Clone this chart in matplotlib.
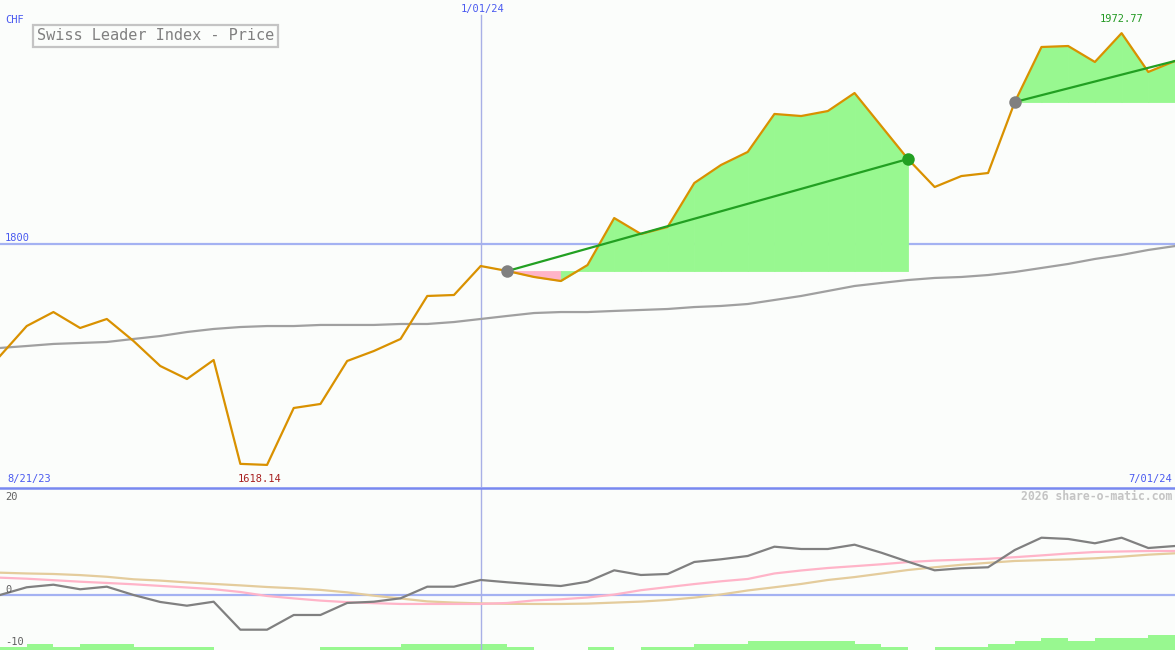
import numpy as np
import matplotlib
matplotlib.use("Agg")
import matplotlib.pyplot as plt
from matplotlib.lines import Line2D

# ---------------- data ----------------
price = [1707.6, 1732.2, 1743.7, 1730.6, 1738.0, 1719.9, 1699.4, 1688.7, 1704.3, 1619.0,
         1618.14, 1664.9, 1668.2, 1703.5, 1711.7, 1721.6, 1756.9, 1757.7, 1781.5, 1777.4,
         1772.5, 1769.2, 1782.3, 1820.9, 1807.8, 1813.6, 1849.7, 1864.5, 1875.2, 1906.4,
         1904.7, 1908.8, 1923.6, 1896.5, 1869.4, 1846.4, 1855.4, 1857.9, 1916.2, 1961.4,
         1962.2, 1949.1, 1972.77, 1940.9, 1949.9]

moving_avg = [1714.2, 1715.8, 1717.5, 1718.3, 1719.1, 1721.6, 1724.0, 1727.3, 1729.8, 1731.4,
              1732.2, 1732.2, 1733.1, 1733.1, 1733.1, 1733.9, 1733.9, 1735.5, 1738.0, 1740.5,
              1742.9, 1743.7, 1743.7, 1744.6, 1745.4, 1746.2, 1747.8, 1748.7, 1750.3, 1753.6,
              1756.9, 1761.0, 1765.1, 1767.6, 1770.0, 1771.7, 1772.5, 1774.1, 1776.6, 1779.9,
              1783.2, 1787.3, 1790.6, 1794.7, 1797.9]

momentum = [0.0, 1.47, 1.96, 1.09, 1.58, 0.0, -1.33, -2.04, -1.28, -6.61,
            -6.61, -3.81, -3.81, -1.52, -1.28, -0.63, 1.58, 1.58, 2.86, 2.42,
            2.04, 1.71, 2.53, 4.70, 3.81, 4.00, 6.29, 6.80, 7.43, 9.20,
            8.76, 8.76, 9.58, 8.06, 6.34, 4.70, 5.09, 5.28, 8.57, 10.91,
            10.67, 9.85, 10.91, 8.95, 9.33]

signal_pink = [3.30, 3.10, 2.82, 2.53, 2.29, 2.04, 1.73, 1.43, 1.10, 0.57,
               -0.19, -0.65, -1.07, -1.37, -1.56, -1.71, -1.71, -1.71, -1.71, -1.52,
               -1.03, -0.82, -0.48, 0.08, 0.91, 1.50, 2.08, 2.61, 3.05, 4.10,
               4.67, 5.14, 5.49, 5.85, 6.27, 6.55, 6.72, 6.90, 7.20, 7.54,
               7.90, 8.19, 8.29, 8.38, 8.38]

signal_tan = [4.25, 4.10, 4.00, 3.79, 3.47, 2.99, 2.74, 2.40, 2.11, 1.83,
              1.52, 1.28, 0.97, 0.50, -0.13, -0.67, -1.22, -1.45, -1.60, -1.68,
              -1.71, -1.71, -1.64, -1.45, -1.26, -0.95, -0.50, 0.10, 0.86, 1.47,
              2.10, 2.86, 3.41, 4.08, 4.76, 5.28, 5.75, 6.13, 6.48, 6.63,
              6.78, 6.99, 7.30, 7.68, 7.94]

volume = [1, 2, 1, 2, 2, 1, 1, 1, 0, 0,
          0, 0, 1, 1, 1, 2, 2, 2, 2, 1,
          0, 0, 1, 0, 1, 1, 2, 2, 3, 3,
          3, 3, 2, 1, 0, 1, 1, 2, 3, 4,
          3, 4, 4, 5]

trend_segments = [(19, 34), (38, 44)]

title = "Swiss Leader Index - Price"
currency = "CHF"
date_left, date_mid, date_right = "8/21/23", "1/01/24", "7/01/24"
mid_index = 18
price_ref = 1800
main_ylim = (1600, 2000)
low_ylim = (-10.48, 20.19)
low_labels = [20, 0, -10]
credit = "2026 share-o-matic.com"

# ---------------- style ----------------
W, H = 1175, 650
BG = "#fbfdfb"
ORANGE = "#d99100"
FILLG = "#98f890"
FILLP = "#ffb4c8"
TREND = "#22a022"
GREY = "#a0a0a0"
REFLINE = "#a4b2f2"
DIVIDER = "#7888f0"
BLUETXT = "#4a5af0"
MONO = "DejaVu Sans Mono"

plt.rcParams["font.family"] = MONO

fig = plt.figure(figsize=(W / 100, H / 100), dpi=100)
fig.patch.set_facecolor(BG)


def px_rect(x0, y0, x1, y1):
    return [x0 / W, 1 - y1 / H, (x1 - x0) / W, (y1 - y0) / H]


def ftext(x, y, s, **kw):
    kw.setdefault("va", "center")
    fig.text(x / W, 1 - y / H, s, **kw)


n = len(price)
x = np.arange(n)
price_a = np.array(price)

ax = fig.add_axes(px_rect(0, 0, W, 487))
ax2 = fig.add_axes(px_rect(0, 489, W, H))
ax3 = fig.add_axes(px_rect(0, 489, W, H))
for a in (ax, ax2, ax3):
    a.set_xlim(0, n - 1)
    a.set_facecolor("none")
    for s in a.spines.values():
        s.set_visible(False)
    a.set_xticks([])
    a.set_yticks([])
ax2.set_zorder(1)
ax3.set_zorder(0)
ax2.patch.set_visible(False)
ax3.patch.set_visible(False)

# ---- main panel ----
ax.set_ylim(*main_ylim)
ax.axhline(price_ref, color=REFLINE, lw=1.6, zorder=1)
ax.axvline(mid_index, ymin=0, ymax=1 - 15 / 487, color="#a8b0e6", lw=1.0, zorder=1)

for (s, e) in trend_segments:
    base = price_a[s]
    for i in range(s, e):
        col = FILLG if price_a[i + 1] >= base else FILLP
        ax.fill_between(x[i:i + 2], price_a[i:i + 2], base, facecolor=col,
                        edgecolor=col, lw=0.6, zorder=2)

ax.plot(x, moving_avg, color=GREY, lw=1.6, zorder=3)
ax.plot(x, price, color=ORANGE, lw=1.6, zorder=4)

for (s, e) in trend_segments:
    ax.plot([x[s], x[e]], [price_a[s], price_a[e]], color=TREND, lw=1.6, zorder=5)
    ax.plot(x[s], price_a[s], "o", ms=9, color="#808080", mec="none", zorder=6)
    if e < n - 1:
        ax.plot(x[e], price_a[e], "o", ms=9, color=TREND, mec="none", zorder=6)

imin = int(np.argmin(price_a))
imax = int(np.argmax(price_a))
ax.annotate(f"{price_a[imin]:.2f}", (x[imin] - 0.27, main_ylim[0]), xytext=(0, 5.8),
            textcoords="offset points", ha="center", va="center",
            fontsize=7.5, color="#a82020")
ax.annotate(f"{price_a[imax]:.2f}", (x[imax], price_a[imax]), xytext=(0, 10),
            textcoords="offset points", ha="center", va="center",
            fontsize=7.5, color="#229922")

# ---- lower panel ----
ax2.set_ylim(*low_ylim)
ax2.axhline(0, color=REFLINE, lw=1.6, zorder=1)
ax2.axvline(mid_index, color="#a8b0e6", lw=1.0, zorder=1)
ax2.plot(x, signal_tan, color="#e4cc9c", lw=1.6, zorder=2)
ax2.plot(x, signal_pink, color="#ffb4c8", lw=1.6, zorder=3)
ax2.plot(x, momentum, color="#808080", lw=1.6, zorder=4)

ax3.set_ylim(0, 161 / 3.0)
ax3.bar(x[:-1], volume, width=1.0, align="edge", color=FILLG, lw=0)

# divider
fig.add_artist(Line2D([0, 1], [1 - 487.5 / H] * 2, color=DIVIDER, lw=1.8))

# ---- texts ----
ftext(5, 20, currency, fontsize=7.5, color=BLUETXT, ha="left")
ftext(483, 9, date_mid, fontsize=7.5, color=BLUETXT, ha="center")
ftext(5, 238, str(price_ref), fontsize=7.5, color=BLUETXT, ha="left")
ftext(7, 479, date_left, fontsize=7.5, color=BLUETXT, ha="left")
ftext(1172, 479, date_right, fontsize=7.5, color=BLUETXT, ha="right")
ftext(1172, 496, credit, fontsize=8.3, color="#c4c4c4", ha="right", fontweight="bold")
low_label_px = {20: 497, 0: 590, -10: 642}
for v in low_labels:
    ftext(5, low_label_px[v], str(v), fontsize=7.5, color="#606060", ha="left")

ftext(37, 36, title, fontsize=11, color="#808080", ha="left",
      bbox=dict(boxstyle="square,pad=0.25", fc=BG, ec="#c4c4c4", lw=1.6))

fig.savefig("out.png", dpi=100, facecolor=BG)
